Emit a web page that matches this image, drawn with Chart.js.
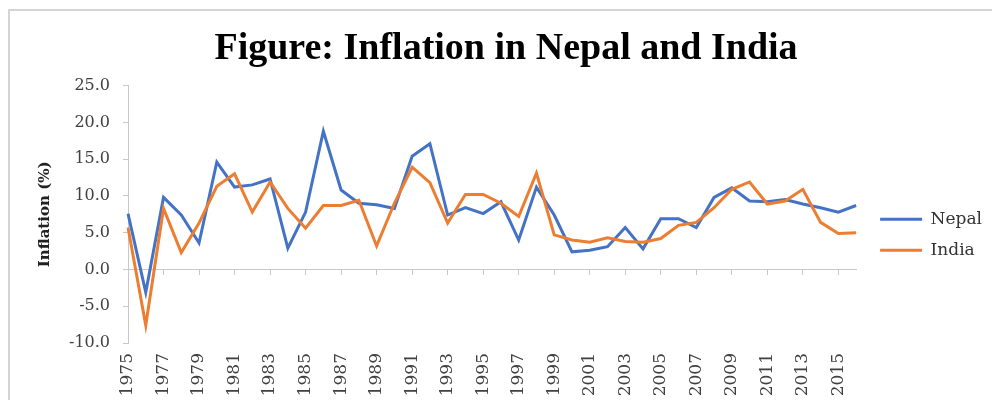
<!DOCTYPE html>
<html>
<head>
<meta charset="utf-8">
<script src="https://cdn.jsdelivr.net/npm/chart.js@4"></script>
<style>
  html, body { margin: 0; padding: 0; background: #fff; overflow: hidden; }
  #wrap { position: relative; width: 992px; height: 400px; }
  #frame {
    position: absolute; left: 8px; top: 9px; width: 1100px; height: 500px;
    border-left: 2px solid #d4d4d4; border-top: 2px solid #d4d4d4;
  }
  #box { position: absolute; left: 0; top: 0; width: 992px; height: 400px; }
</style>
</head>
<body>
<div id="wrap">
  <div id="frame"></div>
  <div id="box"><canvas id="main-chart"></canvas></div>
</div>
<script>
// --- データ ---
const years = ['1975','1976','1977','1978','1979','1980','1981','1982','1983','1984',
               '1985','1986','1987','1988','1989','1990','1991','1992','1993','1994',
               '1995','1996','1997','1998','1999','2000','2001','2002','2003','2004',
               '2005','2006','2007','2008','2009','2010','2011','2012','2013','2014',
               '2015','2016'];
const nepal = [7.6, -3.1, 9.8, 7.4, 3.6, 14.6, 11.2, 11.5, 12.3, 2.9,
               7.8, 18.8, 10.8, 9.0, 8.8, 8.3, 15.4, 17.1, 7.4, 8.4,
               7.6, 9.2, 4.0, 11.2, 7.4, 2.4, 2.6, 3.1, 5.7, 2.8,
               6.9, 6.9, 5.7, 9.8, 11.1, 9.3, 9.2, 9.5, 8.9, 8.4,
               7.8, 8.7];
const india = [5.7, -7.6, 8.3, 2.3, 6.3, 11.3, 13.0, 7.8, 11.9, 8.3,
               5.6, 8.7, 8.7, 9.4, 3.2, 9.0, 13.9, 11.8, 6.3, 10.2,
               10.2, 9.0, 7.2, 13.1, 4.7, 4.0, 3.7, 4.3, 3.8, 3.7,
               4.2, 6.0, 6.4, 8.4, 10.9, 11.9, 8.9, 9.3, 10.9, 6.4,
               4.9, 5.0];
const yTicks = { min: -10, max: 25, step: 5 };

const AXIS_GRAY = '#c8c8c8';
const TEXT_GRAY = '#404040';

Chart.defaults.font.family = "'DejaVu Serif', serif";
Chart.defaults.font.size = 16;

new Chart(document.getElementById('main-chart'), {
    type: 'line',
    data: {
        labels: years,
        datasets: [
            {
                label: 'Nepal',
                data: nepal,
                borderColor: '#4472c4',
                backgroundColor: '#4472c4',
                borderWidth: 3,
                pointRadius: 0,
                tension: 0,
                order: 1
            },
            {
                label: 'India',
                data: india,
                borderColor: '#ed7d31',
                backgroundColor: '#ed7d31',
                borderWidth: 3,
                pointRadius: 0,
                tension: 0,
                order: 0
            }
        ]
    },
    options: {
        responsive: true,
        maintainAspectRatio: false,
        animation: false,
        layout: { padding: { left: 20, right: 0, top: 0, bottom: 0 } },
        plugins: {
            title: {
                display: true,
                text: 'Figure: Inflation in Nepal and India',
                color: '#000',
                font: { family: "'Liberation Serif', serif", size: 38, weight: 'bold' },
                padding: { top: 26, bottom: 14 }
            },
            legend: {
                display: true,
                position: 'right',
                fullSize: false,
                // 凡例を少し下げるための空タイトル
                title: { display: true, text: '', font: { size: 10 }, padding: { top: 0, bottom: 29 } },
                labels: {
                    boxWidth: 42,
                    boxHeight: 3,
                    padding: 14,
                    color: '#333',
                    font: { size: 17 },
                    sort: (a, b) => a.datasetIndex - b.datasetIndex,
                    generateLabels: chart =>
                        Chart.defaults.plugins.legend.labels.generateLabels(chart)
                            .map(l => Object.assign(l, { lineWidth: 0 }))
                }
            },
            tooltip: { enabled: false }
        },
        scales: {
            x: {
                type: 'category',
                offset: false,
                grid: { display: false, drawTicks: false },
                border: { display: false },
                ticks: {
                    autoSkip: false,
                    maxRotation: 90,
                    minRotation: 90,
                    padding: 10,
                    color: TEXT_GRAY,
                    font: { size: 17 },
                    callback: (v, i) => (i % 2 === 0 ? years[i] : '')
                },
                afterFit: s => { s.height = 57; }
            },
            // 0 の位置に引く横軸と目盛り
            x2: {
                type: 'category',
                labels: years,
                offset: false,
                position: { y: 0 },
                grid: {
                    drawOnChartArea: false,
                    drawTicks: true,
                    tickLength: 5,
                    color: c => (c.index % 2 === 0 && c.index > 0 ? AXIS_GRAY : 'rgba(0,0,0,0)')
                },
                border: { display: true, color: AXIS_GRAY, width: 1 },
                ticks: { display: false, autoSkip: false }
            },
            y: {
                type: 'linear',
                position: 'left',
                min: yTicks.min,
                max: yTicks.max,
                ticks: {
                    stepSize: yTicks.step,
                    padding: 13,
                    color: TEXT_GRAY,
                    font: { size: 16 },
                    callback: v => v.toFixed(1)
                },
                grid: { drawOnChartArea: false, drawTicks: true, tickLength: 5, color: AXIS_GRAY },
                border: { color: AXIS_GRAY, width: 1 },
                title: {
                    display: true,
                    text: 'Inflation (%)',
                    color: '#222',
                    font: { size: 15, weight: 'bold' },
                    padding: { top: 16, bottom: 17 }
                },
                afterFit: s => { s.width = 108; }
            },
            // 凡例との間隔用（描画なし）
            yR: {
                type: 'linear',
                position: 'right',
                ticks: { display: false },
                grid: { display: false },
                border: { display: false },
                afterFit: s => { s.width = 10; }
            }
        }
    }
});
</script>
</body>
</html>
